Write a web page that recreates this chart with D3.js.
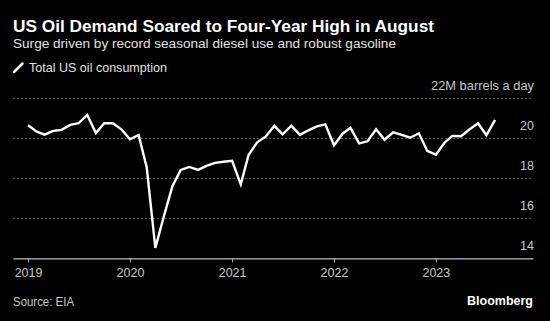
<!DOCTYPE html>
<html>
<head>
<meta charset="utf-8">
<script src="https://cdn.jsdelivr.net/npm/d3@7"></script>
<style>
  html, body { margin: 0; padding: 0; background: #000; }
  svg { display: block; }
  text { font-family: "Liberation Sans", Arial, sans-serif; }
</style>
</head>
<body>
<script>
// ---- data ----
const startYear = 2019;
const startMonth = 0; // January
const consumption = [
  20.65, 20.33, 20.18, 20.37, 20.42, 20.67, 20.76, 21.17, 20.26, 20.75, 20.75, 20.45,
  19.95, 20.17, 18.55, 14.52, 16.08, 17.6, 18.42, 18.57, 18.42, 18.62, 18.77, 18.83,
  18.87, 17.7, 19.17, 19.8, 20.08, 20.62, 20.2, 20.63, 20.17, 20.4, 20.6, 20.7,
  19.65, 20.23, 20.52, 19.75, 19.85, 20.45, 19.93, 20.3, 20.17, 20.03, 20.25, 19.37,
  19.18, 19.78, 20.12, 20.1, 20.44, 20.75, 20.15, 20.92
];
const yTicks = [14, 16, 18, 20];
const yTop = 22;
const xTickYears = [2019, 2020, 2021, 2022, 2023];
const title = "US Oil Demand Soared to Four-Year High in August";
const subtitle = "Surge driven by record seasonal diesel use and robust gasoline";
const legendLabel = "Total US oil consumption";
const unitLabel = "22M barrels a day";
const source = "Source: EIA";
const brand = "Bloomberg";

// ---- chart ----
const W = 550, H = 321;
const svg = d3.select("body").append("svg").attr("width", W).attr("height", H);
svg.append("rect").attr("width", W).attr("height", H).attr("fill", "#000");

const left = 13, right = 533;
const x = d3.scaleUtc()
  .domain([Date.UTC(2018, 10, 8), Date.UTC(2023, 11, 15)])
  .range([left, right]);
const y = d3.scaleLinear().domain([14, 22]).range([258.3, 98.3]);

const data = consumption.map((v, i) => ({ date: new Date(Date.UTC(startYear, startMonth + i, 1)), v }));

// titles
svg.append("text").attr("x", 13).attr("y", 31.5).attr("fill", "#fff")
  .attr("font-size", 16).attr("font-weight", "bold")
  .attr("textLength", 421).attr("lengthAdjust", "spacingAndGlyphs").text(title);
svg.append("text").attr("x", 13).attr("y", 47.5).attr("fill", "#e0e0e0")
  .attr("font-size", 13)
  .attr("textLength", 383).attr("lengthAdjust", "spacingAndGlyphs").text(subtitle);

// legend
svg.append("line").attr("x1", 14).attr("y1", 72).attr("x2", 22.5).attr("y2", 63.5)
  .attr("stroke", "#fff").attr("stroke-width", 2.5).attr("stroke-linecap", "round");
svg.append("text").attr("x", 29).attr("y", 72).attr("fill", "#e0e0e0")
  .attr("font-size", 13)
  .attr("textLength", 138).attr("lengthAdjust", "spacingAndGlyphs").text(legendLabel);

// gridlines
const gridVals = yTicks.filter(v => v > 14).concat([yTop]);
svg.append("g").selectAll("line").data(gridVals).join("line")
  .attr("x1", left).attr("x2", right)
  .attr("y1", d => y(d)).attr("y2", d => y(d))
  .attr("stroke", "#6a6a6a").attr("stroke-width", 1)
  .attr("stroke-dasharray", "2,2");

// y labels
svg.append("g").selectAll("text").data(yTicks).join("text")
  .attr("x", 534).attr("y", d => y(d) - 8)
  .attr("text-anchor", "end").attr("fill", "#c8c8c8").attr("font-size", 12.5)
  .text(d => d);
svg.append("text").attr("x", 534).attr("y", y(yTop) - 8)
  .attr("text-anchor", "end").attr("fill", "#c8c8c8").attr("font-size", 12.5)
  .attr("textLength", 103).attr("lengthAdjust", "spacingAndGlyphs")
  .text(unitLabel);

// x axis
const xAxis = d3.axisBottom(x)
  .tickValues(xTickYears.map(yr => new Date(Date.UTC(yr, 0, 1))))
  .tickFormat(d3.utcFormat("%Y"))
  .tickSize(4).tickSizeOuter(0).tickPadding(6);
const gx = svg.append("g").attr("transform", `translate(0,${y(14)})`).call(xAxis);
gx.select(".domain").attr("stroke", "#bdbdbd").attr("stroke-width", 1.2);
gx.selectAll(".tick line").attr("stroke", "#bdbdbd");
gx.selectAll(".tick text").attr("fill", "#c8c8c8").attr("font-size", 12.5)
  .attr("font-family", "Liberation Sans, Arial, sans-serif");

// line
const line = d3.line().x(d => x(d.date)).y(d => y(d.v));
svg.append("path").datum(data)
  .attr("d", line).attr("fill", "none")
  .attr("stroke", "#fff").attr("stroke-width", 2.4)
  .attr("stroke-linejoin", "miter").attr("stroke-linecap", "butt");

// footer
svg.append("text").attr("x", 13).attr("y", 306).attr("fill", "#c8c8c8")
  .attr("font-size", 12)
  .attr("textLength", 61).attr("lengthAdjust", "spacingAndGlyphs").text(source);
svg.append("text").attr("x", 533).attr("y", 305).attr("text-anchor", "end")
  .attr("fill", "#fff").attr("font-size", 12.5).attr("font-weight", "bold")
  .text(brand);
</script>
</body>
</html>
